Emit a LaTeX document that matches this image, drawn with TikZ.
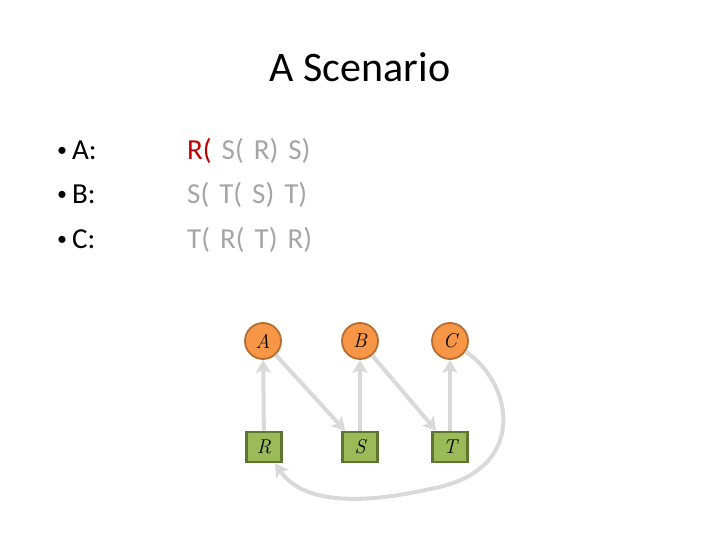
\documentclass[tikz,border=0pt]{standalone}
\usepackage{fontspec}
\setmainfont{Carlito}
\newfontfamily\labelfont{Latin Modern Roman}
\usetikzlibrary{positioning,arrows.meta}

\definecolor{gatefill}{HTML}{F79646}
\definecolor{gateedge}{HTML}{B66D31}
\definecolor{lockfill}{HTML}{9BBB59}
\definecolor{lockedge}{HTML}{5F7530}
\definecolor{conngray}{HTML}{D9D9D9}
\definecolor{codegray}{HTML}{A5A5A5}
\definecolor{codered}{HTML}{C00000}

\begin{document}
\begin{tikzpicture}[
  x=1pt,y=-1pt,
  gate/.style ={circle,draw=gateedge,line width=1.8pt,fill=gatefill,minimum size=36pt,inner sep=0pt,font=\labelfont\itshape\fontsize{20}{20}\selectfont},
  lock/.style ={rectangle,draw=lockedge,line width=2.6pt,fill=lockfill,minimum width=35pt,minimum height=30pt,inner sep=0pt,font=\labelfont\itshape\fontsize{20}{20}\selectfont},
  conn/.style ={draw=conngray,line width=4pt,-{Stealth[length=13pt,width=15pt,inset=3pt]}},
  body/.style ={anchor=base west,inner sep=0pt,font=\fontsize{29}{34}\selectfont},
  code/.style ={body,text=codegray,execute at begin node={\spaceskip=10pt\relax}},
  dot/.style  ={anchor=base west,inner sep=0pt,font=\fontsize{20}{34}\selectfont}]
\useasboundingbox (0,0) rectangle (720,540);
% --- Title ---
\node[font=\fontsize{42}{50}\selectfont] (title) at (360,67) {A Scenario};
% --- Bullet list with the lock sequences ---
\foreach \i/\y in {A/160,B/204,C/248}
{
  \node[dot]  (bul\i) at (57,\y-3) {\textbullet};
  \node[body] (lbl\i) at (72,\y) {\i:};
}
\node[code] (seqA) at (187,160) {\textcolor{codered}{R(} S( R) S)};
\node[code] (seqB) at (187,204) {S( T( S) T)};
\node[code] (seqC) at (187,248) {T( R( T) R)};
% --- Graph: processes on top, resources below ---
\node[gate] (A) at (263,341) {A};
\node[gate] (B) at (360,341) {B};
\node[gate] (C) at (450,341) {C};
\node[lock] (R) at (264,447) {R};
\node[lock] (S) at (360,447) {S};
\node[lock] (T) at (450,447) {T};
% edges
\draw[conn] (R) -- (A);
\draw[conn] (S) -- (B);
\draw[conn] (T) -- (C);
\draw[conn] (A) -- (S);
\draw[conn] (B) -- (T);
\coordinate (bend) at (430,489);
\draw[conn] (C) .. controls (515,385) and (528,472) .. (bend)
  .. controls (350,507) and (300,500) .. (R);
\end{tikzpicture}
\end{document}
